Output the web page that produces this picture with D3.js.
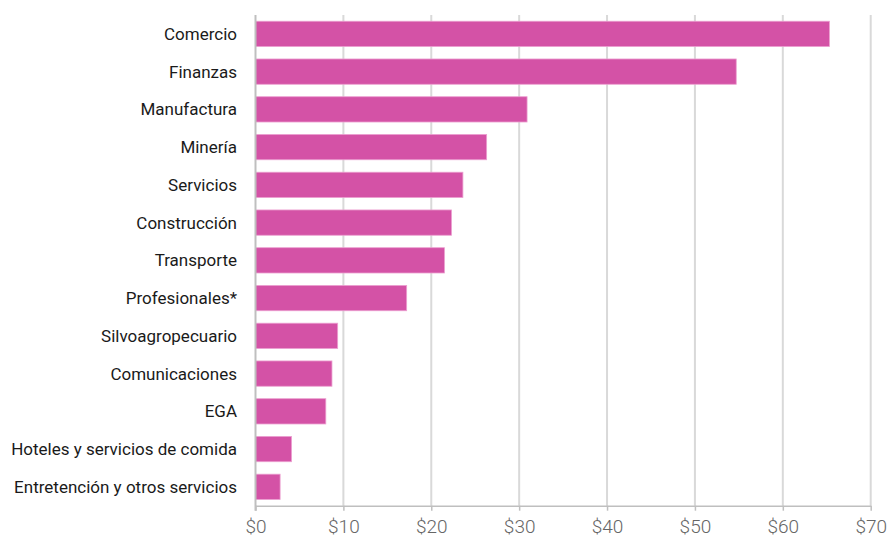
<!DOCTYPE html>
<html>
<head>
<meta charset="utf-8">
<script src="https://cdn.jsdelivr.net/npm/d3@7"></script>
<style>
  html, body { margin: 0; padding: 0; background: #ffffff; }
  svg { display: block; }
</style>
</head>
<body>
<svg id="chart" width="888" height="542"></svg>
<script>
// Sectors and their amounts (in dollars, billions)
const categories = [
  "Comercio", "Finanzas", "Manufactura", "Minería", "Servicios",
  "Construcción", "Transporte", "Profesionales*", "Silvoagropecuario",
  "Comunicaciones", "EGA", "Hoteles y servicios de comida",
  "Entretención y otros servicios"
];
const values = [65.3, 54.7, 30.9, 26.3, 23.6, 22.3, 21.5, 17.2, 9.35, 8.7, 8.0, 4.1, 2.8];
const tickValues = [0, 10, 20, 30, 40, 50, 60, 70];

const svg = d3.select("#chart");
const margin = { left: 255.5, right: 17.3, top: 15, bottom: 36.3 };
const W = 888, H = 542;

const x = d3.scaleLinear().domain([0, 70]).range([margin.left, W - margin.right]);
const y = d3.scaleBand().domain(categories)
  .range([margin.top, H - margin.bottom])
  .paddingInner(0.33).paddingOuter(0.165);

// vertical gridlines
svg.append("g").selectAll("line")
  .data(tickValues.slice(1))
  .join("line")
  .attr("x1", d => x(d)).attr("x2", d => x(d))
  .attr("y1", margin.top).attr("y2", H - margin.bottom)
  .attr("stroke", "#d9d9d9").attr("stroke-width", 2);

// bars
svg.append("g").selectAll("rect")
  .data(values)
  .join("rect")
  .attr("x", x(0))
  .attr("y", (d, i) => y(categories[i]))
  .attr("width", d => x(d) - x(0))
  .attr("height", y.bandwidth())
  .attr("fill", "#d452a6")
  .attr("stroke", "#ec9fd0")
  .attr("stroke-width", 0.8);

// bottom axis
const xAxis = d3.axisBottom(x).tickValues(tickValues)
  .tickFormat(d => "$" + d).tickSize(5).tickSizeOuter(0);
const gx = svg.append("g")
  .attr("transform", `translate(0,${H - margin.bottom})`)
  .call(xAxis);
gx.select(".domain").attr("stroke", "#bfbfbf").attr("stroke-width", 1.5);
gx.selectAll(".tick line").attr("stroke", "#bfbfbf").attr("stroke-width", 1.5);
gx.selectAll(".tick text")
  .attr("fill", "#666666")
  .attr("font-family", "Roboto, 'Liberation Sans', sans-serif")
  .attr("font-weight", 300)
  .attr("font-size", 19)
  .attr("dy", "1.0em");

// left axis line
svg.append("line")
  .attr("x1", x(0)).attr("x2", x(0))
  .attr("y1", margin.top).attr("y2", H - margin.bottom + 5)
  .attr("stroke", "#bfbfbf").attr("stroke-width", 2);

// category labels
svg.append("g").selectAll("text")
  .data(categories)
  .join("text")
  .attr("x", 237)
  .attr("y", d => y(d) + y.bandwidth() / 2)
  .attr("dy", "0.35em")
  .attr("text-anchor", "end")
  .attr("fill", "#1a1a1a")
  .attr("font-family", "Roboto, 'Liberation Sans', sans-serif")
  .attr("font-size", 17)
  .text(d => d);
</script>
</body>
</html>
